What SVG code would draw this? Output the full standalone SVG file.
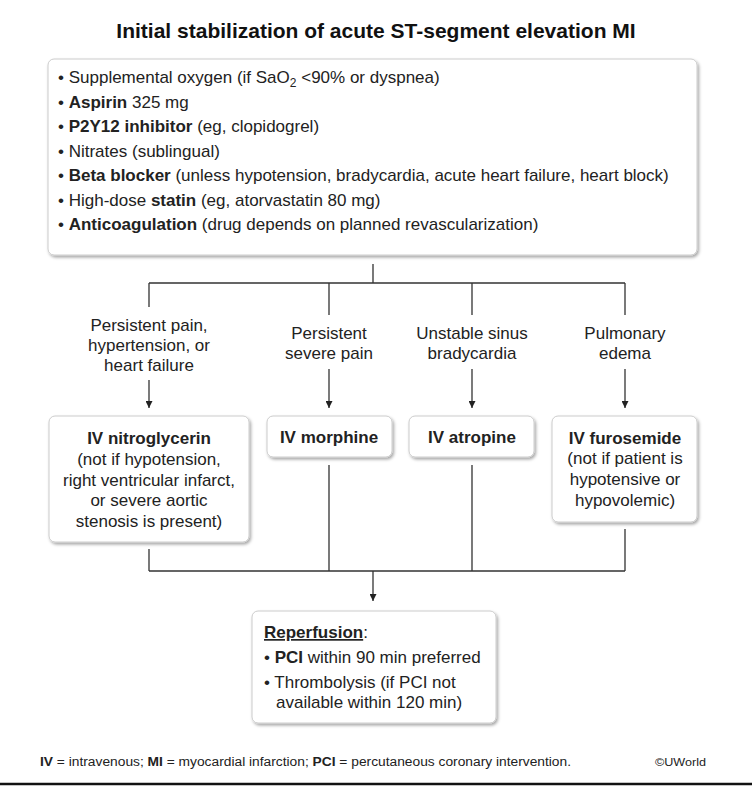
<svg xmlns="http://www.w3.org/2000/svg" width="752" height="786" viewBox="0 0 752 786">
<defs>
<filter id="sh" x="-10%" y="-10%" width="130%" height="140%">
<feDropShadow dx="1.5" dy="2" stdDeviation="1.5" flood-color="#000" flood-opacity="0.35"/>
</filter>
<marker id="ah" viewBox="0 0 10 10" refX="10" refY="5" markerWidth="7" markerHeight="7" markerUnits="userSpaceOnUse" orient="auto">
<path d="M0,0 L10,5 L0,10 z" fill="#222"/>
</marker>
</defs>
<style>
text{font-family:"Liberation Sans",Arial,sans-serif;fill:#222;}
.t{font-size:21px;font-weight:bold;fill:#111;}
.b{font-size:17px;}
.c{font-size:17px;text-anchor:middle;}
.h{font-size:17px;font-weight:bold;text-anchor:middle;}
.box{fill:#fff;stroke:#ccc;stroke-width:1;filter:url(#sh);}
.ln{fill:none;stroke:#333;stroke-width:1.3;}
.f{font-size:12px;}
</style>
<rect width="752" height="786" fill="#fff"/>
<text class="t" x="376" y="38" text-anchor="middle">Initial stabilization of acute ST-segment elevation MI</text>

<g id="initial">
<rect class="box" x="48" y="59" width="649" height="196" rx="6"/>
<text class="b" x="58" y="83">• Supplemental oxygen (if SaO<tspan font-size="12" dy="4">2</tspan><tspan dy="-4"> &lt;90% or dyspnea)</tspan></text>
<text class="b" x="58" y="108">• <tspan font-weight="bold">Aspirin</tspan> 325 mg</text>
<text class="b" x="58" y="132">• <tspan font-weight="bold">P2Y12 inhibitor</tspan> (eg, clopidogrel)</text>
<text class="b" x="58" y="157">• Nitrates (sublingual)</text>
<text class="b" x="58" y="181">• <tspan font-weight="bold">Beta blocker</tspan> (unless hypotension, bradycardia, acute heart failure, heart block)</text>
<text class="b" x="58" y="206">• High-dose <tspan font-weight="bold">statin</tspan> (eg, atorvastatin 80 mg)</text>
<text class="b" x="58" y="230">• <tspan font-weight="bold">Anticoagulation</tspan> (drug depends on planned revascularization)</text>
</g>

<g id="connectors">
<path class="ln" d="M373,264 V283 M149,283 H625 M149,283 V307 M329,283 V315 M472,283 V315 M625,283 V315"/>
<line class="ln" x1="149" y1="380" x2="149" y2="408" marker-end="url(#ah)"/>
<line class="ln" x1="329" y1="369" x2="329" y2="408" marker-end="url(#ah)"/>
<line class="ln" x1="472" y1="369" x2="472" y2="408" marker-end="url(#ah)"/>
<line class="ln" x1="625" y1="369" x2="625" y2="408" marker-end="url(#ah)"/>
<path class="ln" d="M149,549 V571 M329,465 V571 M472,465 V571 M625,529 V571 M149,571 H625"/>
<line class="ln" x1="373" y1="571" x2="373" y2="601" marker-end="url(#ah)"/>
</g>

<g id="labels">
<text class="c" x="149" y="331">Persistent pain,</text>
<text class="c" x="149" y="351">hypertension, or</text>
<text class="c" x="149" y="371">heart failure</text>
<text class="c" x="329" y="339">Persistent</text>
<text class="c" x="329" y="359">severe pain</text>
<text class="c" x="472" y="339">Unstable sinus</text>
<text class="c" x="472" y="359">bradycardia</text>
<text class="c" x="625" y="339">Pulmonary</text>
<text class="c" x="625" y="359">edema</text>
</g>

<g id="nitroglycerin">
<rect class="box" x="49" y="416" width="200" height="126" rx="6"/>
<text class="h" x="149" y="444">IV nitroglycerin</text>
<text class="c" x="149" y="465">(not if hypotension,</text>
<text class="c" x="149" y="486">right ventricular infarct,</text>
<text class="c" x="149" y="506">or severe aortic</text>
<text class="c" x="149" y="527">stenosis is present)</text>
</g>

<g id="morphine">
<rect class="box" x="267" y="416" width="125" height="41" rx="6"/>
<text class="h" x="329" y="443">IV morphine</text>
</g>

<g id="atropine">
<rect class="box" x="409" y="416" width="125" height="41" rx="6"/>
<text class="h" x="472" y="443">IV atropine</text>
</g>

<g id="furosemide">
<rect class="box" x="552" y="416" width="145" height="106" rx="6"/>
<text class="h" x="625" y="444">IV furosemide</text>
<text class="c" x="625" y="464">(not if patient is</text>
<text class="c" x="625" y="485">hypotensive or</text>
<text class="c" x="625" y="506">hypovolemic)</text>
</g>

<g id="reperfusion">
<rect class="box" x="252" y="611" width="244" height="112" rx="6"/>
<text class="b" x="264" y="638"><tspan font-weight="bold" text-decoration="underline">Reperfusion</tspan>:</text>
<text class="b" x="264" y="663">• <tspan font-weight="bold">PCI</tspan> within 90 min preferred</text>
<text class="b" x="264" y="688">• Thrombolysis (if PCI not</text>
<text class="b" x="276" y="708">available within 120 min)</text>
</g>

<text class="f" x="40" y="766" textLength="531" lengthAdjust="spacingAndGlyphs"><tspan font-weight="bold">IV</tspan> = intravenous; <tspan font-weight="bold">MI</tspan> = myocardial infarction; <tspan font-weight="bold">PCI</tspan> = percutaneous coronary intervention.</text>
<text x="655" y="766" font-size="11" textLength="51" lengthAdjust="spacingAndGlyphs">©UWorld</text>
<line x1="0" y1="784" x2="752" y2="784" stroke="#111" stroke-width="2.5"/>
</svg>
